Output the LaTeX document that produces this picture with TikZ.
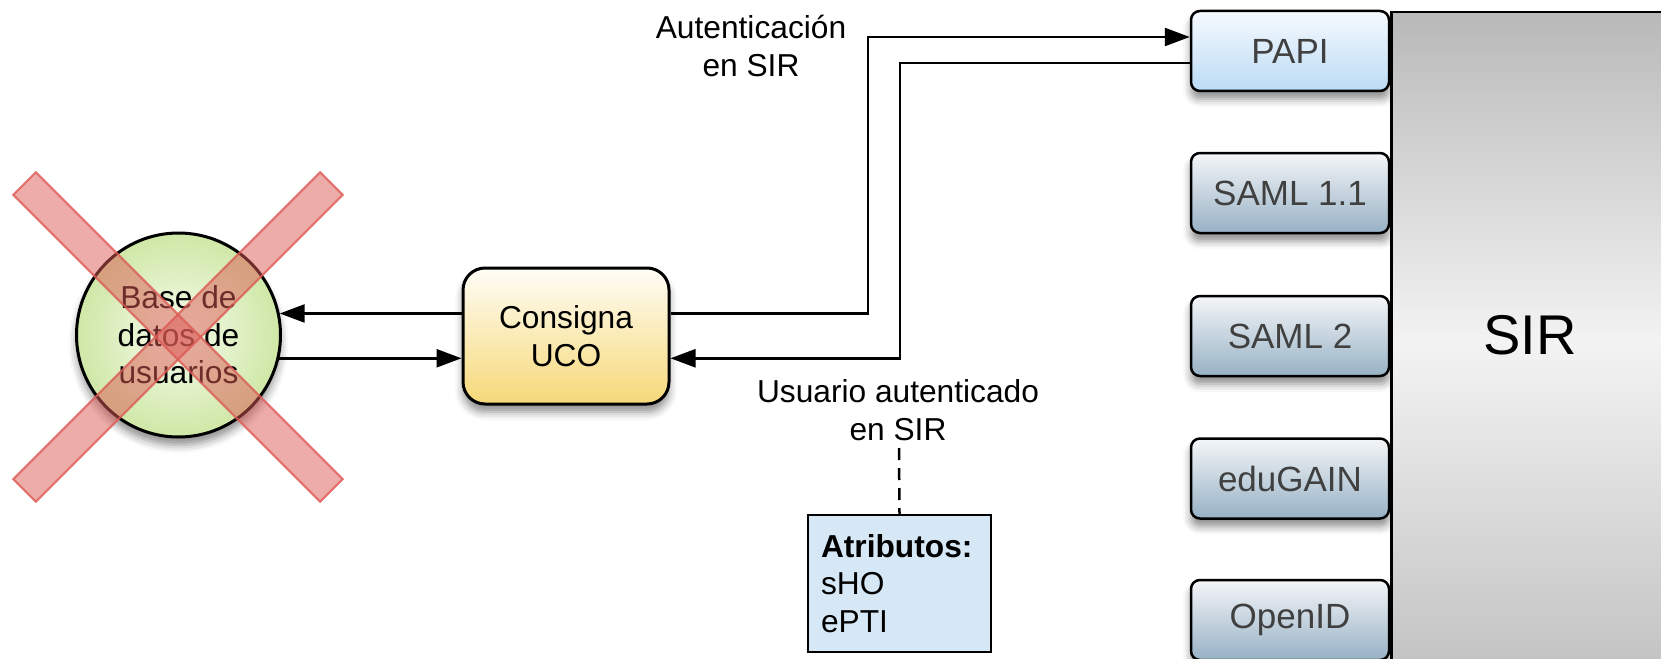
\documentclass[tikz,border=0pt]{standalone}
\usepackage{fontspec}
\setmainfont{Liberation Sans}
\usetikzlibrary{arrows.meta,shadows.blur,calc}
\definecolor{papitop}{HTML}{F6FAFE}
\definecolor{papibot}{HTML}{BBDBF5}
\definecolor{sttop}{HTML}{F4F6F8}
\definecolor{stbot}{HTML}{97B1C5}
\definecolor{txtgray}{HTML}{404040}
\definecolor{sirtop}{HTML}{B9B9B9}
\definecolor{sirmid}{HTML}{F3F3F3}
\definecolor{sirbot}{HTML}{C2C2C2}
\definecolor{dbin}{HTML}{F6FCEE}
\definecolor{dbout}{HTML}{CFE7A6}
\definecolor{constop}{HTML}{FFFDF6}
\definecolor{consbot}{HTML}{F6D878}
\definecolor{attrfill}{HTML}{D6E8F6}
\definecolor{xred}{HTML}{DC5A55}
\begin{document}
\begin{tikzpicture}[x=1pt,y=-1pt,
  tx/.style={font=\fontsize{31.7}{37.5}\selectfont, align=center, inner sep=3pt},
  shad/.style={blur shadow={shadow xshift=0pt,shadow yshift=-8pt,shadow blur radius=8pt,shadow opacity=45}},
  proto/.style={draw=black, line width=2.5pt, rounded corners=9pt, minimum width=198pt, minimum height=80pt,
    font=\fontsize{35}{40}\selectfont, text=txtgray, top color=sttop, bottom color=stbot, shad},
  arr/.style={line width=2.5pt, -{Triangle[length=25pt,width=18pt]}},
  dashline/.style={line width=2.5pt, dash pattern=on 12pt off 8pt},
  xbar/.style={fill=xred, fill opacity=0.5, draw=xred, draw opacity=0.8, line width=2pt}
]
\useasboundingbox (0,0) rectangle (1661,658);

% protocol boxes
\node[proto, top color=papitop, bottom color=papibot] (papi) at (1290,51) {PAPI};
\node[proto] (saml1) at (1290,193) {SAML 1.1};
\node[proto] (saml2) at (1290,336) {SAML 2};
\node[proto] (edugain) at (1290,478.5) {eduGAIN};
\node[proto] (openid) at (1290,620) {OpenID};

% SIR block (drawn after the boxes so their shadows stay outside it)
\node[draw, line width=2.5pt, minimum width=290pt, minimum height=660pt, anchor=north west,
  top color=sirtop, bottom color=sirbot, middle color=sirmid, inner sep=0pt] (sir) at (1390,11) {};
\node[font=\fontsize{56}{60}\selectfont] (sirlabel) at (1530,335) {SIR};

% database
\node[draw, line width=3pt, circle, minimum size=204pt, inner color=dbin, outer color=dbout, shad, tx]
  (db) at (178.5,335) {Base de\\datos de\\usuarios};

% Consigna UCO
\node[draw, line width=3pt, rounded corners=22pt, minimum width=206pt, minimum height=136pt,
  top color=constop, bottom color=consbot, shad, tx] (cons) at (566,336) {Consigna\\UCO};

% attributes
\node[draw, line width=2.5pt, fill=attrfill, minimum width=183pt, minimum height=137pt,
  align=left, text width=157pt, inner sep=13pt, font=\fontsize{31.7}{37.5}\selectfont]
  (attr) at (899.5,583.5) {\textbf{Atributos:}\\sHO\\ePTI};

% labels
\node[tx] (autlbl) at (751,46) {Autenticación\\en SIR};
\node[tx] (usrlbl) at (898,410) {Usuario autenticado\\en SIR};

% connectors
\coordinate (c1) at (868,37);
\coordinate (c2) at (900,63);
\coordinate (dtop) at (899,448);
\draw[arr] (cons.east |- db.12.5) -| (c1) -- (papi.west |- c1);
\draw[arr] (papi.west |- c2) -- (c2) |- (cons.east |- db.-13.6);
\draw[arr] (cons.west |- db.12.5) -- (db.12.5);
\draw[arr] (db.-13.6) -- (cons.west |- db.-13.6);
\draw[dashline] (dtop) -- (attr.north);

% red cross
\path[xbar, rotate around={45:(178,337)}] (178-217,337-16) rectangle (178+217,337+16);
\path[xbar, rotate around={-45:(178,337)}] (178-217,337-16) rectangle (178+217,337+16);
\end{tikzpicture}
\end{document}
